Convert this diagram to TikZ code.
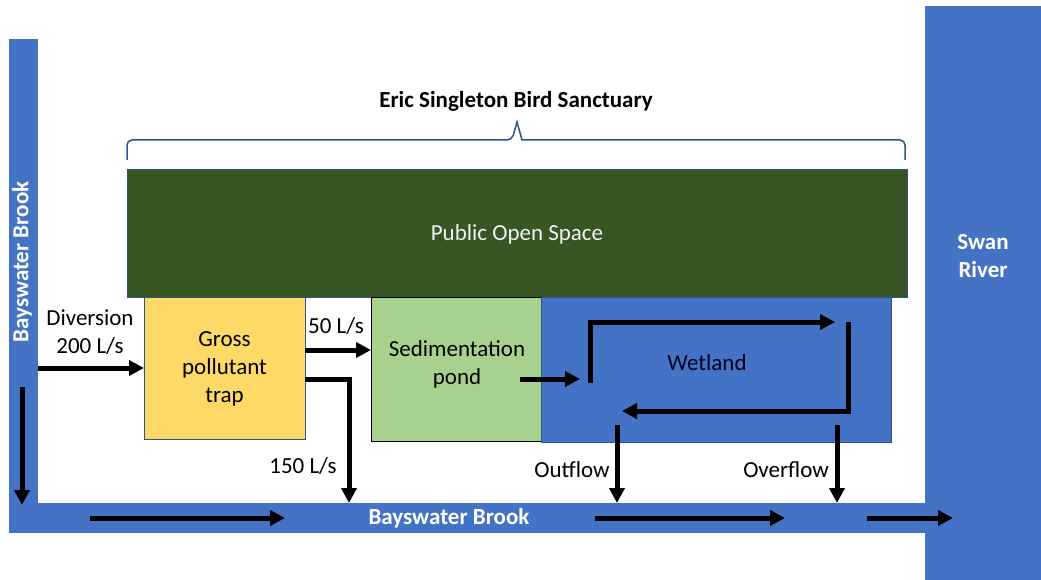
\documentclass[tikz,border=0pt]{standalone}
\usepackage{fontspec}
\setmainfont{Carlito}
\usetikzlibrary{arrows.meta,calc}
\definecolor{brook}{HTML}{4472C4}
\definecolor{edge}{HTML}{2F528F}
\definecolor{posg}{HTML}{375623}
\definecolor{gpty}{HTML}{FFD966}
\definecolor{sedg}{HTML}{A9D18E}
\tikzset{
  area/.style={inner sep=0pt, outer sep=0pt, anchor=north west},
  water/.style={area, fill=brook, draw=none},
  flow/.style={line width=5pt, -{Triangle[length=15pt,width=15pt]}},
  lbl/.style={font=\fontsize{23}{28}\selectfont, align=center, inner sep=0pt},
  blbl/.style={font=\fontsize{23}{28}\selectfont\bfseries, text=white, align=center, inner sep=0pt},
}
\begin{document}
\begin{tikzpicture}[x=1pt,y=-1pt]
\useasboundingbox (0,0) rectangle (1041,580);
% water bodies
\node[water, minimum width=29pt, minimum height=494pt] (lb) at (9,39) {};
\node[water, minimum width=916pt, minimum height=30pt] (bb) at (9,503) {};
\node[water, minimum width=116pt, minimum height=574pt] (swan) at (925,6) {};
% areas
\node[area, fill=posg, draw=edge, line width=1pt, minimum width=780pt, minimum height=127pt] (pos) at (127,170) {};
\node[lbl, text=white!90!gray] (posl) at (517,234) {Public Open Space};
\node[area, fill=gpty, draw=edge, line width=1pt, minimum width=161pt, minimum height=142pt] (gpt) at (144,297) {};
\node[lbl] (gptl) at ($(gpt.center)+(0,1)$) {Gross\\pollutant\\trap};
\node[area, fill=sedg, draw=black, line width=1pt, minimum width=170pt, minimum height=144pt] (sp) at (371,297) {};
\node[lbl] (spl) at (457,364.5) {Sedimentation\\pond};
\node[area, fill=brook, draw=edge, line width=1pt, minimum width=350pt, minimum height=145pt] (wet) at (541,297) {};
\node[lbl, text=black!85!blue] (wetl) at (707,363) {Wetland};
% brace and title
\draw[edge, line width=1.5pt, rounded corners=5pt] (pos.north west |- 0,160) -- (127,140) -- (512,140) [sharp corners] -- (517,122) -- (522,140) [rounded corners=5pt] -- (905,140) -- (905,160);
\node[lbl, font=\fontsize{23}{28}\selectfont\bfseries] (title) at (516,101) {Eric Singleton Bird Sanctuary};
% water labels
\node[blbl, rotate=90] (lbl1) at (22,262) {Bayswater Brook};
\node[blbl] (lbl2) at (449,518) {Bayswater Brook};
\node[blbl] (swanl) at (983,256) {Swan\\River};
% flows
\draw[flow] (lb.east |- gpt.west) -- (gpt.west);
\node[lbl] (div) at (90,332) {Diversion\\200 L/s};
\draw[flow] (gpt.east |- 0,350) -- (sp.west |- 0,350);
\node[lbl] (l50) at (336,326) {50 L/s};
\draw[flow] (gpt.east |- 0,379) -| (bb.north -| 349,0);
\node[lbl] (l150) at (303,466) {150 L/s};
\draw[flow] (sp.east |- 0,379) ++(-21,0) -- (580,379);
\draw[flow] (590,383) |- (835,322);
\draw[flow] (848,322) |- (622,411);
\draw[flow] (617,425) -- (bb.north -| 617,0);
\node[lbl] (outl) at (572,470) {Outflow};
\draw[flow] (837,425) -- (bb.north -| 837,0);
\node[lbl] (ovl) at (786,470) {Overflow};
% brook flow arrows
\draw[flow] (22,387) -- (22,505);
\draw[flow] (90,518) -- (285,518);
\draw[flow] (595,518) -- (785,518);
\draw[flow] (867,518) -- (953,518);
\end{tikzpicture}
\end{document}
